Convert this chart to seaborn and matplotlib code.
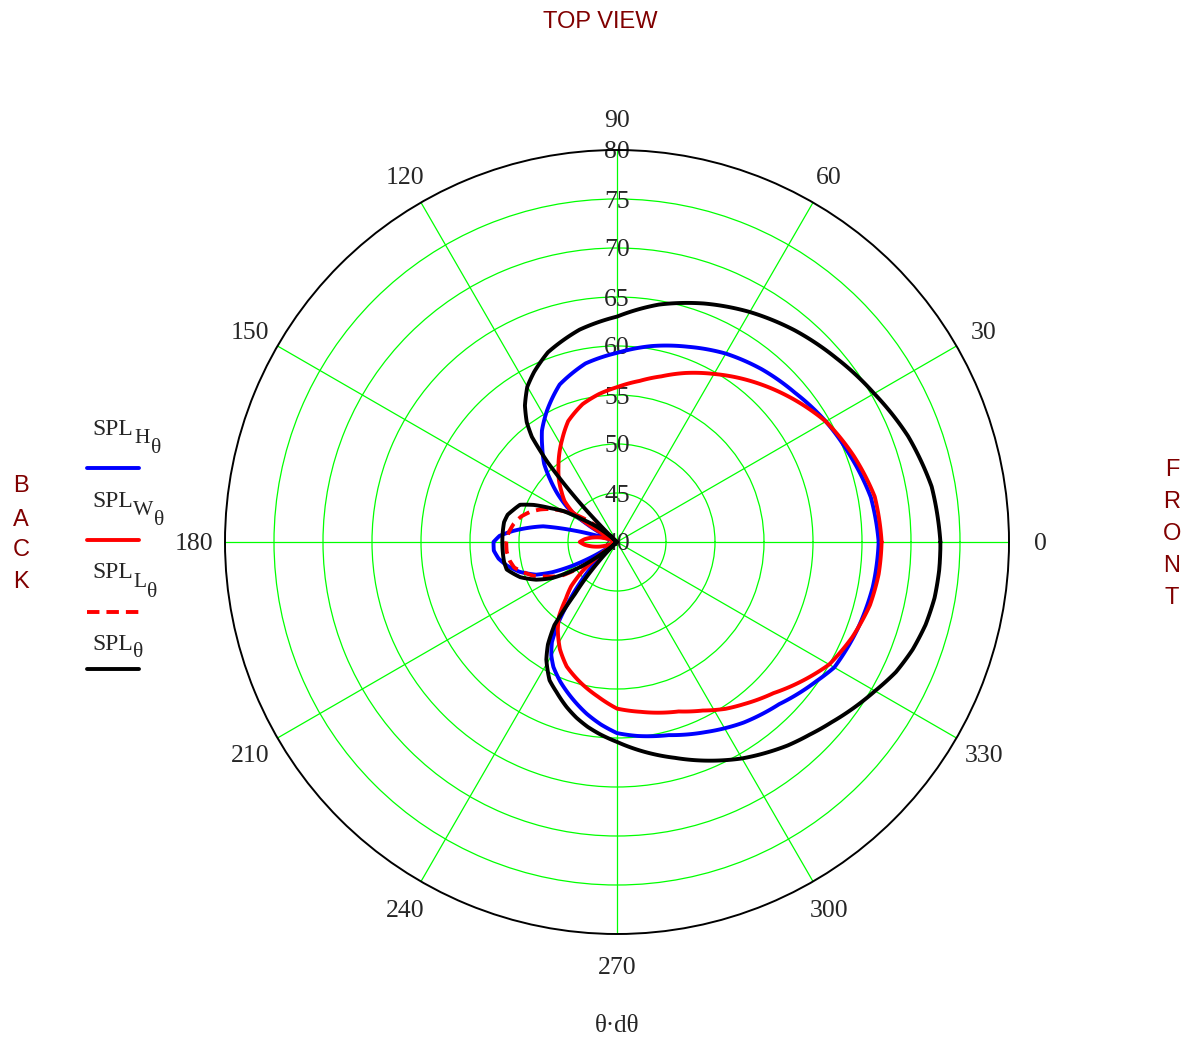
import numpy as np
import pandas as pd
import matplotlib
matplotlib.use("Agg")
import matplotlib.pyplot as plt
from matplotlib.lines import Line2D
import seaborn as sns

# ---------------- data (angles in degrees, levels in dB) ----------------
theta_total = [0, 10, 20, 30, 40, 50, 60, 70, 80, 90, 100, 110, 116, 120, 124, 127, 129, 131,
               133, 135, 137, 139, 141, 143, 147, 150, 153, 156, 159, 163, 166, 170, 175, 180,
               185, 190, 194, 200, 205, 209, 212, 215, 218, 221, 224, 227, 229, 231, 233, 236,
               239, 244, 248, 253, 257, 261, 265, 270, 275, 280, 285, 290, 295, 300, 305, 310,
               315, 320, 325, 330, 335, 340, 345, 350, 355, 360]
spl_total = [73.0, 72.6, 71.6, 70.3, 69.2, 68.2, 67.1, 65.9, 64.6, 63.0, 62.0, 60.6, 59.3, 58.3,
             56.8, 55.3, 53.8, 50.8, 46.5, 42.5, 40.0, 40.0, 41.5, 42.6, 44.3, 46.3, 47.6, 49.3,
             50.6, 51.1, 51.5, 51.7, 51.7, 51.7, 51.7, 51.7, 51.6, 50.5, 49.1, 47.6, 45.9, 44.0,
             41.8, 40.0, 40.5, 42.8, 44.8, 46.8, 50.6, 52.6, 54.0, 55.7, 56.5, 57.6, 58.4, 59.1,
             59.7, 60.4, 61.2, 62.0, 62.8, 63.7, 64.6, 65.5, 66.3, 67.1, 67.8, 68.6, 69.5, 70.4,
             71.4, 72.1, 72.6, 72.9, 73.0, 73.0]

theta_h = [0, 10, 20, 30, 40, 50, 60, 70, 80, 90, 100, 110, 118, 124, 128, 133, 137, 141, 145,
           148, 151, 154, 158, 162, 165, 168, 171, 174, 177, 180, 184, 188, 192, 197, 202, 205,
           208, 211, 214, 217, 220, 224, 228, 231, 234, 237, 240, 243, 248, 254, 260, 265, 270,
           276, 285, 295, 305, 315, 325, 330, 340, 350, 360]
spl_h = [66.7, 66.3, 65.4, 64.6, 63.7, 63.0, 62.2, 61.2, 60.3, 59.3, 58.5, 57.1, 55.2, 53.7,
         52.4, 50.9, 49.3, 47.8, 46.2, 44.5, 42.3, 40.0, 40.0, 41.6, 44.5, 47.7, 49.2, 50.7,
         52.0, 52.6, 52.6, 52.2, 51.5, 50.4, 48.9, 47.3, 45.2, 42.8, 40.3, 40.0, 40.8, 43.3,
         45.7, 47.8, 50.2, 52.2, 53.4, 54.3, 55.4, 56.6, 57.8, 58.7, 59.5, 59.9, 60.4, 61.4,
         62.5, 63.4, 64.8, 65.6, 66.1, 66.5, 66.7]

theta_w = [0, 10, 20, 30, 40, 50, 60, 68, 75, 82, 90, 97, 104, 112, 118, 123, 128, 133, 138,
           142, 146, 148, 150, 152, 158, 161, 165, 170, 175, 180, 185, 190, 195, 199, 202, 214,
           217, 220, 224, 228, 232, 236, 242, 248, 256, 263, 270, 278, 290, 297, 303, 308, 316,
           323, 330, 338, 346, 353, 360]
spl_w = [67.0, 66.7, 65.7, 64.6, 63.0, 61.4, 59.8, 58.6, 57.5, 56.6, 55.8, 55.2, 54.5, 53.3,
         51.9, 50.8, 49.7, 48.7, 47.6, 46.8, 45.5, 44.0, 42.0, 40.0, 40.0, 41.0, 41.8, 42.6,
         43.3, 43.8, 43.3, 42.6, 41.8, 41.0, 40.0, 40.0, 42.0, 44.5, 46.5, 47.8, 49.6, 50.8,
         52.4, 53.7, 54.9, 55.9, 57.0, 57.5, 58.4, 59.3, 60.3, 61.0, 62.2, 63.6, 65.0, 65.9,
         66.6, 66.9, 67.0]

theta_l = [138, 141, 144, 147, 150, 153, 157, 161, 165, 170, 175, 180, 185, 190, 194, 198, 202,
           205, 208, 211, 214, 217, 220]
spl_l = [40.0, 41.8, 43.8, 45.3, 46.3, 47.4, 48.5, 49.4, 50.1, 50.7, 51.1, 51.3, 51.3, 51.1,
         50.8, 50.0, 49.2, 48.3, 47.5, 46.8, 45.0, 42.5, 40.0]

r_ticks = [40, 45, 50, 55, 60, 65, 70, 75, 80]
theta_ticks = [0, 30, 60, 90, 120, 150, 180, 210, 240, 270, 300, 330]

legend_subs = ["H", "W", "L", ""]

# ---------------- style ----------------
sns.set_style("white")
plt.rcParams["font.family"] = ["Liberation Serif", "DejaVu Serif"]

W, H = 1191, 1038
fig = plt.figure(figsize=(W / 100, H / 100), dpi=100)
cx, cy, R = 617, 542, 392
ax = fig.add_axes([(cx - R) / W, (H - cy - R) / H, 2 * R / W, 2 * R / H], projection="polar")

GREEN = "#00ff00"
DARKRED = "#800000"
DASH = (0, (3.2, 1.8))

series = [
    (theta_h, spl_h, "#0000ff", "-"),
    (theta_w, spl_w, "#ff0000", "-"),
    (theta_l, spl_l, "#ff0000", DASH),
    (theta_total, spl_total, "#000000", "-"),
]
for th, vals, col, ls in series:
    df = pd.DataFrame({"theta": np.deg2rad(th), "r": vals})
    sns.lineplot(data=df, x="theta", y="r", ax=ax, sort=False, estimator=None,
                 color=col, linewidth=2.8, linestyle=ls, zorder=3)

# let the polar transform draw each segment as a smooth polar curve
for ln in ax.lines:
    ln.get_path()._interpolation_steps = 40
    ln.set_solid_joinstyle("round")

ax.set_ylim(40, 80)
ax.set_xlabel("")
ax.set_ylabel("")
ax.set_thetagrids(theta_ticks, labels=[""] * len(theta_ticks))
ax.set_rgrids(r_ticks[1:-1], labels=[""] * (len(r_ticks) - 2))
ax.grid(True, color=GREEN, linewidth=0.9)
ax.set_axisbelow(True)
ax.spines["polar"].set_color("black")
ax.spines["polar"].set_linewidth(1.4)

# radial labels along the 90 degree line
for r in r_ticks:
    ax.text(np.pi / 2, r, str(r), ha="center", va="center_baseline", fontsize=18.5, zorder=1)
# angular labels outside the ring
for t in theta_ticks:
    ax.text(np.deg2rad(t), 83.2, str(t), ha="center", va="center_baseline", fontsize=18.5,
            clip_on=False)

# legend (label above line sample), Mathcad style subscripts
legend_items = [
    ("#0000ff", "-", 435, 134, 443, 151, 453, 468),
    ("#ff0000", "-", 507, 133, 515, 154, 525, 540),
    ("#ff0000", DASH, 578, 133, 587, 147, 597, 612),
    ("#000000", "-", 650, None, None, 133, 657, 669),
]
for sub, (col, ls, yb, xs, ys, xt, yt, ly) in zip(legend_subs, legend_items):
    fig.text(92 / W, 1 - yb / H, "SPL", ha="left", va="baseline", fontsize=17)
    if sub:
        fig.text(xs / W, 1 - ys / H, sub, ha="left", va="baseline", fontsize=15.5)
    fig.text(xt / W, 1 - yt / H, "θ", ha="left", va="baseline", fontsize=15.5)
    fig.add_artist(Line2D([87 / W, 139 / W], [1 - ly / H, 1 - ly / H], color=col,
                          linestyle=ls, linewidth=2.8, transform=fig.transFigure,
                          solid_capstyle="round"))

# titles / side labels
fig.text(600 / W, 1 - 20 / H, "TOP VIEW", ha="center", va="center_baseline", fontsize=17,
         color=DARKRED, family="Liberation Sans")
for ch, y in zip("BACK", [483, 517, 548, 579]):
    fig.text(21 / W, 1 - y / H, ch, ha="center", va="center_baseline", fontsize=17,
             color=DARKRED, family="Liberation Sans")
for ch, y in zip("FRONT", [468, 500, 532, 564, 596]):
    fig.text(1172 / W, 1 - y / H, ch, ha="center", va="center_baseline", fontsize=17,
             color=DARKRED, family="Liberation Sans")
fig.text(cx / W, 1 - 1024 / H, "θ·dθ", ha="center", va="center_baseline", fontsize=18)

fig.savefig("out.png", dpi=100, facecolor="white")
